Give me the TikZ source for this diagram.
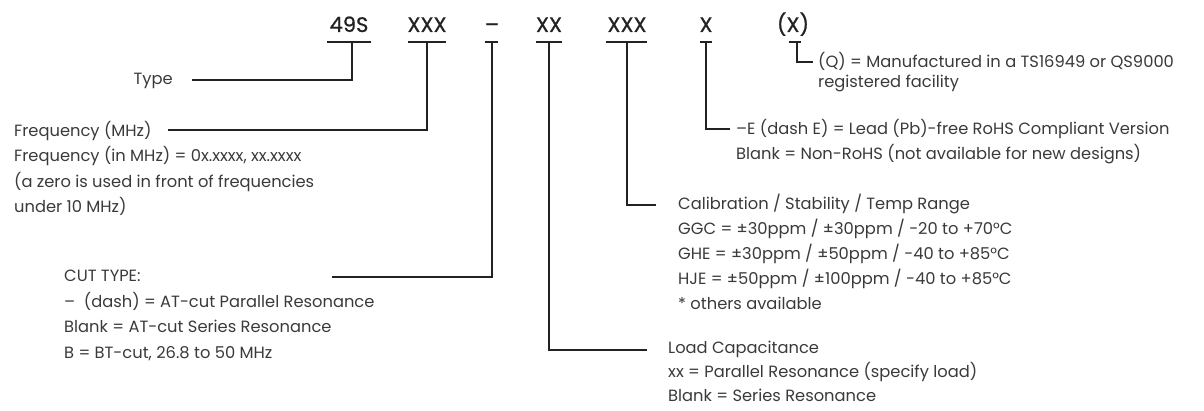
\documentclass[tikz,border=0pt]{standalone}
\usepackage{fontspec}
\setmainfont{Poppins}
\newfontfamily\codefont[FakeBold=0.8]{Poppins}
\definecolor{ink}{HTML}{3A3A3A}
\definecolor{wire}{HTML}{222222}
\begin{document}
\begin{tikzpicture}[x=1pt,y=-1pt,
  code/.style={font=\codefont\fontsize{21}{24}\selectfont, text=wire, inner sep=0pt, anchor=base},
  desc/.style={font=\fontsize{16.3}{25.5}\selectfont, text=ink, inner sep=0pt, anchor=base west, align=left},
  wirestyle/.style={draw=wire, line width=2.2pt},
  ul/.style={draw=wire, line width=2.6pt}]
\useasboundingbox (0,0) rectangle (1204,411);
% part number codes
\node[code] (c1) at (349,32) {49S};
\node[code] (c2) at (427,32) {XXX};
\node[code] (c3) at (492,32) {–};
\node[code] (c4) at (549,32) {XX};
\node[code] (c5) at (627,32) {XXX};
\node[code] (c6) at (706,32) {X};
\node[code] (c7) at (793,32) {(X)};
% underlines
\coordinate (u1) at (352,42); \draw[ul] (327,42) -- (371,42);
\coordinate (u2) at (427,42); \draw[ul] (408,42) -- (446,42);
\coordinate (u3) at (492,42); \draw[ul] (485,42) -- (498,42);
\coordinate (u4) at (549,42); \draw[ul] (536,42) -- (562,42);
\coordinate (u5) at (627,42); \draw[ul] (606,42) -- (647,42);
\coordinate (u6) at (706,42); \draw[ul] (700,42) -- (712,42);
\coordinate (u7) at (797,42); \draw[ul] (789,42) -- (801,42);
% descriptions (anchored at the baseline of their last line)
\node[desc, anchor=base east] (type) at (173,85) {Type};
\node[desc] (freq) at (14,213) {Frequency (MHz)\\Frequency (in MHz) = 0x.xxxx, xx.xxxx\\(a zero is used in front of frequencies\\under 10 MHz)};
\node[desc] (cut) at (64,358) {CUT TYPE:\\–\ \ (dash) = AT-cut Parallel Resonance\\Blank = AT-cut Series Resonance\\B = BT-cut, 26.8 to 50 MHz};
\node[desc, font=\fontsize{16.3}{24}\selectfont] (load) at (668,401) {Load Capacitance\\xx = Parallel Resonance (specify load)\\Blank = Series Resonance};
\node[desc, font=\fontsize{16.3}{25}\selectfont] (cal) at (678,310) {Calibration / Stability / Temp Range\\GGC = ±30ppm / ±30ppm / -20 to +70°C\\GHE = ±30ppm / ±50ppm / -40 to +85°C\\HJE = ±50ppm / ±100ppm / -40 to +85°C\\* others available};
\node[desc, font=\fontsize{16.3}{25}\selectfont] (rohs) at (736,160) {–E (dash E) = Lead (Pb)-free RoHS Compliant Version\\Blank = Non-RoHS (not available for new designs)};
\node[desc, font=\fontsize{16.3}{20.5}\selectfont] (qual) at (818,88) {(Q) = Manufactured in a TS16949 or QS9000\\registered facility};
% connector ends
\coordinate (e1) at (192,80);
\coordinate (e2) at (168,130);
\coordinate (e3) at (332,277);
\coordinate (e4) at (647,350);
\coordinate (e5) at (656,205);
\coordinate (e6) at (730,129);
\coordinate (e7) at (813,62);
\draw[wirestyle] (u1) |- (e1);
\draw[wirestyle] (u2) |- (e2);
\draw[wirestyle] (u3) |- (e3);
\draw[wirestyle] (u4) |- (e4);
\draw[wirestyle] (u5) |- (e5);
\draw[wirestyle] (u6) |- (e6);
\draw[wirestyle] (u7) |- (e7);
\end{tikzpicture}
\end{document}
